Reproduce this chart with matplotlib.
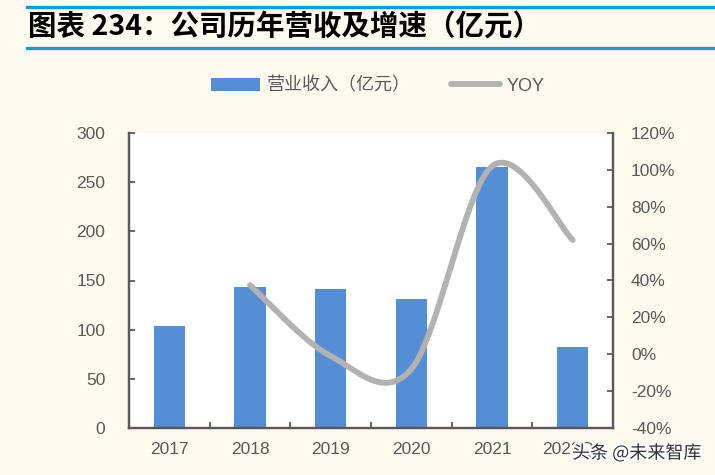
import numpy as np
import matplotlib
matplotlib.use("Agg")
import matplotlib.pyplot as plt
import matplotlib.patheffects as pe
from matplotlib.ticker import FuncFormatter, MultipleLocator

plt.rcParams['font.family'] = ['Liberation Sans', 'Noto Sans CJK SC', 'DejaVu Sans']

# data
years = ['2017', '2018', '2019', '2020', '2021', '2022Q1']
revenue = [104, 143, 141.5, 131, 265.5, 82]      # 亿元
yoy = [None, 37.5, -1, -8, 102, 62]               # %

bg = '#FFFAF0'
bar_color = '#558ED5'
line_color = '#B2B2B2'
text_gray = '#595959'

fig = plt.figure(figsize=(7.15, 4.75), dpi=100, facecolor=bg)
ax = fig.add_axes([129/715, 1-428/475, (613-129)/715, (428-133)/475])
ax.set_facecolor('white')
ax2 = ax.twinx()

x = np.arange(len(years))
bars = ax.bar(x, revenue, width=0.39, color=bar_color, zorder=2)
ax.set_xlim(-0.5, len(years) - 0.5)
ax.set_ylim(0, 300)
ax.yaxis.set_major_locator(MultipleLocator(50))

# smoothed YOY line (Excel-style bezier through the points)
px = np.array([i for i, v in enumerate(yoy) if v is not None], dtype=float)
py = np.array([v for v in yoy if v is not None], dtype=float)
cx, cy = [], []
n = len(px)
for i in range(n - 1):
    p0 = (px[max(i-1, 0)], py[max(i-1, 0)])
    p1 = (px[i], py[i])
    p2 = (px[i+1], py[i+1])
    p3 = (px[min(i+2, n-1)], py[min(i+2, n-1)])
    c1 = (p1[0] + (p2[0]-p0[0])/6, p1[1] + (p2[1]-p0[1])/6)
    c2 = (p2[0] - (p3[0]-p1[0])/6, p2[1] - (p3[1]-p1[1])/6)
    t = np.linspace(0, 1, 40)
    for a, b, c, d, out in [(p1[0], c1[0], c2[0], p2[0], cx), (p1[1], c1[1], c2[1], p2[1], cy)]:
        out.extend((1-t)**3*a + 3*(1-t)**2*t*b + 3*(1-t)*t**2*c + t**3*d)
line, = ax2.plot(cx, cy, color=line_color, lw=4.2, solid_capstyle='round', zorder=3)
ax2.set_ylim(-40, 120)
ax2.yaxis.set_major_locator(MultipleLocator(20))
ax2.yaxis.set_major_formatter(FuncFormatter(lambda v, p: f'{v:.0f}%'))

for a in (ax, ax2):
    for s in a.spines.values():
        s.set_color(text_gray)
        s.set_linewidth(1.6)
    a.spines['top'].set_visible(False)
    a.tick_params(colors=text_gray, labelsize=12.5, direction='in', length=4, width=1.3)
ax.tick_params(axis='y', pad=17)
ax2.tick_params(axis='y', pad=13)
ax.set_xticks(x)
ax.set_xticklabels(years)
ax.tick_params(axis='x', length=0, pad=10)
ax.set_xticks(np.arange(0.5, len(years) - 1), minor=True)
ax.tick_params(axis='x', which='minor', direction='in', length=4, width=1.3, colors=text_gray)
for lbl in ax.get_xticklabels() + ax.get_yticklabels() + ax2.get_yticklabels():
    lbl.set_color(text_gray)

# legend
leg = fig.legend([bars, line], ['营业收入（亿元）', 'YOY'], loc='center', bbox_to_anchor=(378/715, 1-86/475),
                 ncol=2, frameon=False, fontsize=13, labelcolor=text_gray, handlelength=2.7,
                 columnspacing=2.2, handletextpad=0.4)

# title and blue rules
fig.add_artist(plt.Line2D([27/715, 1], [1-7/475, 1-7/475], color='#0A9BE0', lw=2.4))
fig.add_artist(plt.Line2D([27/715, 1], [1-48/475, 1-48/475], color='#0A9BE0', lw=2.4))
fig.text(28/715, 1-27/475, '图表 234：公司历年营收及增速（亿元）', fontsize=20.5, fontweight='bold',
         style='italic', va='center', ha='left', color='black',
         family=['Noto Sans CJK SC'])

# watermark (sits over the last category label, as in the source image)
fig.text(572/715, 1-453/475, '头条 @未来智库', fontsize=13, color='#333333', va='center', ha='left',
         family=['Noto Sans CJK SC'], zorder=10,
         path_effects=[pe.withStroke(linewidth=3, foreground='white')])

fig.savefig('out.png', dpi=100, facecolor=bg)
